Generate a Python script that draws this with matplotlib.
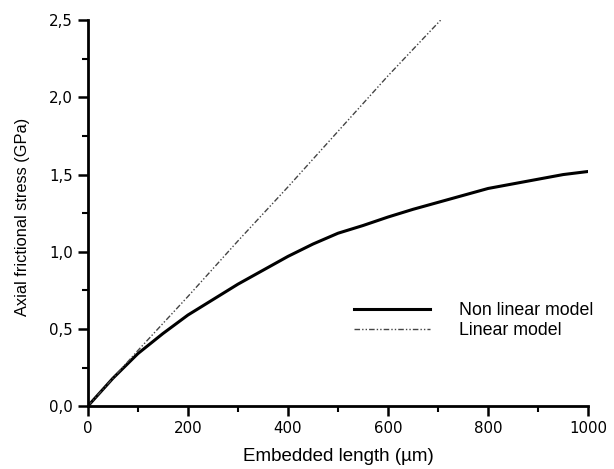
import numpy as np
import matplotlib.pyplot as plt
from matplotlib.ticker import MultipleLocator, FuncFormatter

# Dati
x_nonlin = [0, 25, 50, 75, 100, 150, 200, 250, 300, 350, 400, 450, 500, 550,
            600, 650, 700, 750, 800, 850, 900, 950, 1000]
y_nonlin = [0.0, 0.09, 0.18, 0.26, 0.34, 0.47, 0.59, 0.69, 0.79, 0.88, 0.97,
            1.05, 1.12, 1.17, 1.225, 1.275, 1.32, 1.365, 1.41, 1.44, 1.47, 1.50, 1.52]

x_lin = [0, 100, 200, 300, 400, 500, 600, 705]
y_lin = [0.0, 0.36, 0.71, 1.07, 1.42, 1.78, 2.14, 2.50]

fig = plt.figure(figsize=(6.14, 4.69), dpi=100)
ax = fig.add_axes([0.143, 0.134, 0.815, 0.823])

ax.plot(x_nonlin, y_nonlin, '-', color='black', lw=2.2, label='Non linear model')
ax.plot(x_lin, y_lin, color='#444444', lw=1.0, dashes=(4, 1.5, 1, 1.5, 1, 1.5),
        label='Linear model')

ax.set_xlim(0, 1000)
ax.set_ylim(0, 2.5)
ax.spines['top'].set_visible(False)
ax.spines['right'].set_visible(False)
ax.spines['left'].set_linewidth(2)
ax.spines['bottom'].set_linewidth(2)

ax.xaxis.set_major_locator(MultipleLocator(200))
ax.xaxis.set_minor_locator(MultipleLocator(100))
ax.yaxis.set_major_locator(MultipleLocator(0.5))
ax.yaxis.set_minor_locator(MultipleLocator(0.25))
ax.yaxis.set_major_formatter(FuncFormatter(lambda v, p: f"{v:.1f}".replace('.', ',')))
ax.tick_params(which='major', direction='out', length=7, width=1.8, labelsize=10.8)
ax.tick_params(which='minor', direction='out', length=4, width=1.5)
for lab in ax.get_xticklabels() + ax.get_yticklabels():
    lab.set_family('DejaVu Sans')

ax.set_xlabel('Embedded length (µm)', family='Liberation Sans', fontsize=13.5, labelpad=9)
ax.set_ylabel('Axial frictional stress (GPa)', family='Liberation Sans', fontsize=11.8)
ax.yaxis.set_label_coords(-0.115, 0.49)

ax.legend(loc='upper left', bbox_to_anchor=(0.5, 0.31), frameon=False,
          prop={'family': 'Liberation Sans', 'size': 12.8}, handlelength=4.3,
          handletextpad=1.6, labelspacing=0.15)

fig.savefig('out.png')
